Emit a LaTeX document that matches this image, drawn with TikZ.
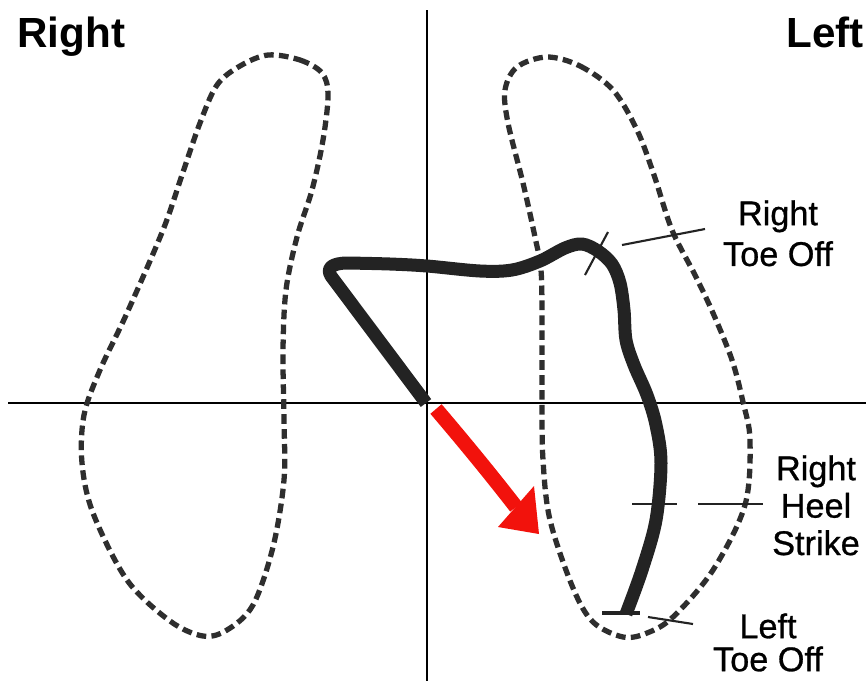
\documentclass[tikz,border=0pt]{standalone}
\usepackage{fontspec}
\setmainfont{Liberation Sans}
\newfontfamily\eventfont[FakeBold=0.8]{Liberation Sans}
\usepackage{tikz}
\usetikzlibrary{positioning,calc}
\definecolor{inkblack}{HTML}{232323}
\definecolor{footgray}{HTML}{2E2E2E}
\definecolor{arrowred}{HTML}{F2120C}

\tikzset{
  footline/.style={footgray,line width=3pt,dash pattern=on 5.5pt off 3pt},
  copline/.style={inkblack,line width=7.4pt,line join=round,line cap=butt},
  markline/.style={inkblack,line width=1.2pt},
  axisline/.style={black,line width=1.2pt},
  sidelabel/.style={font=\fontsize{24}{28}\selectfont\bfseries,inner sep=0pt},
  eventlabel/.style={align=center,inner sep=0pt}
}

\begin{document}
\begin{tikzpicture}[x=0.02cm,y=-0.02cm]
  % Page
  \fill[white] (0,0) rectangle (866,681);
  \useasboundingbox (0,0) rectangle (866,681);

  % Axes
  \draw[axisline] (8,403) -- (866,403);
  \draw[axisline] (427,10) -- (427,681);

  % Foot outlines (right foot on the left, left foot on the right)
  \draw[footline] plot[smooth cycle,tension=0.55] coordinates {
    (268,55) (300,60) (322,73) (328,95) (323,140) (312,190) (297,237)
    (286,290) (283,350) (284,420) (284,480) (273,547) (253,605) (227,630)
    (203,636) (170,621) (127,580) (93,513) (82,463) (84,415) (100,370)
    (127,313) (163,230) (182,175) (200,123) (217,85) (240,66)};
  \draw[footline] plot[smooth cycle,tension=0.55] coordinates {
    (547,57) (580,66) (613,90) (637,130) (654,175) (672,230) (695,275)
    (713,313) (732,360) (743,402) (750,440) (745,505) (713,570) (673,617)
    (647,633) (623,637) (593,622) (573,588) (550,520) (543,460) (542,400)
    (542,320) (541,270) (535,237) (523,183) (508,123) (505,90) (517,67)};

  % Side labels
  \node[sidelabel,anchor=base west] (sideright) at (17,47) {Right};
  \node[sidelabel,anchor=base east] (sideleft) at (864,47) {Left};

  % Centre of pressure trace
  \draw[copline] (426,403) -- (331,276)
    .. controls (326,268) and (332,263) .. (348,263)
    -- plot[smooth,tension=0.55] coordinates {
      (348,263) (390,264) (427,266) (480,271) (512,270) (540,261)
      (565,248) (582,244) (598,251) (612,264) (620,283) (624,310)
      (626,340) (634,365) (647,395) (656,425) (661,463) (656,520)
      (642,570) (626,614)};

  % Direction of progression
  \draw[arrowred,line width=8.4pt] (436,409) .. controls (465,443) and (492,476) .. (516,507);
  \fill[arrowred] (534,486) -- (498,527) -- (539,534) -- cycle;

  % Event marks
  \coordinate (rtotick1) at (608,232);
  \coordinate (rtotick2) at (585,275);
  \coordinate (rtolead1) at (622,245);
  \coordinate (rtolead2) at (705,229);
  \coordinate (rhsleft1) at (632,504);
  \coordinate (rhsleft2) at (677,504);
  \coordinate (rhsright1) at (698,504);
  \coordinate (rhsright2) at (763,504);
  \coordinate (ltolead1) at (648,617);
  \coordinate (ltolead2) at (693,624);
  \foreach \a/\b in {rtotick1/rtotick2,rtolead1/rtolead2,rhsleft1/rhsleft2,
                     rhsright1/rhsright2,ltolead1/ltolead2} {
    \draw[markline] (\a) -- (\b);
  }
  \coordinate (ltobar1) at (602,613);
  \coordinate (ltobar2) at (640,613);
  \draw[markline,line width=1.8pt] (ltobar1) -- (ltobar2);

  % Event labels
  \node[eventlabel,anchor=north,font=\eventfont\fontsize{19.5}{23.2}\selectfont]
    (rto) at (778,200) {Right\\Toe Off};
  \node[eventlabel,anchor=north,font=\eventfont\fontsize{19.5}{21.3}\selectfont]
    (rhs) at (816,455) {Right\\Heel\\Strike};
  \node[eventlabel,anchor=north,font=\eventfont\fontsize{19.5}{18.8}\selectfont]
    (lto) at (768,613) {Left\\Toe Off};
\end{tikzpicture}
\end{document}
